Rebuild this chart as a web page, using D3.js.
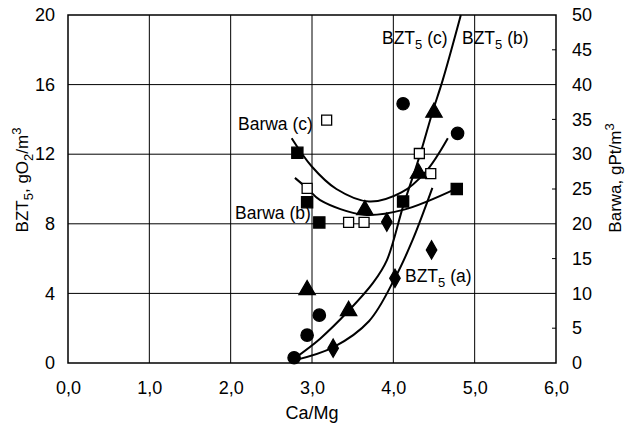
<!DOCTYPE html>
<html>
<head>
<meta charset="utf-8">
<script src="https://cdn.jsdelivr.net/npm/d3@7"></script>
<style>
  body { margin: 0; background: #fff; }
  text { font-family: Arial, "Liberation Sans", sans-serif; fill: #000; }
</style>
</head>
<body>
<div id="container"></div>
<script>
/* CONSTANTS AND GLOBALS */
const width = 626;
const height = 425;
const margin = { top: 15, right: 70, bottom: 62, left: 68 };

/* DATA */
const xTicks = [0, 1, 2, 3, 4, 5, 6];
const bztTicks = [0, 4, 8, 12, 16, 20];
const barwaTicks = [0, 5, 10, 15, 20, 25, 30, 35, 40, 45, 50];

// markers: BZT5 in gO2/m3 (left axis), Barwa in gPt/m3 (right axis)
const sqFilledX = [2.82, 2.94, 3.09, 4.12, 4.78];
const sqFilledBarwa = [30.2, 23.1, 20.2, 23.2, 25.0];
const sqOpenX = [3.18, 2.94, 3.45, 3.64, 4.32, 4.46];
const sqOpenBarwa = [34.9, 25.1, 20.2, 20.2, 30.1, 27.2];
const circleX = [2.78, 2.94, 3.09, 4.12, 4.79];
const circleBzt = [0.3, 1.6, 2.75, 14.9, 13.2];
const triX = [2.94, 3.45, 3.65, 4.31, 4.5];
const triBzt = [4.2, 3.0, 8.8, 10.9, 14.4];
const diaX = [3.26, 3.92, 4.02, 4.47];
const diaBzt = [0.85, 8.1, 4.87, 6.5];

// fitted curves
const barwaCX = [2.75, 3.0, 3.3, 3.7, 4.1, 4.4, 4.67];
const barwaCY = [32.3, 28.2, 25.0, 23.2, 24.5, 27.5, 32.3];
const barwaBX = [2.79, 2.94, 3.1, 3.64, 4.12, 4.78];
const barwaBY = [26.6, 25.1, 23.4, 21.3, 22.0, 25.1];
const bztCX = [2.78, 3.1, 3.45, 3.75, 3.92, 4.12, 4.33, 4.48, 4.61, 4.83];
const bztCY = [0.25, 1.4, 3.0, 4.6, 5.9, 9.0, 12.0, 14.4, 16.3, 20];
const bztAX = [2.78, 3.26, 3.7, 4.02, 4.24, 4.48];
const bztAY = [0.15, 0.9, 2.4, 4.88, 7.1, 10.06];

const svg = d3.select("#container").append("svg")
  .attr("width", width)
  .attr("height", height);

/* SCALES */
const xScale = d3.scaleLinear().domain([0, 6]).range([margin.left, width - margin.right]);
const yL = d3.scaleLinear().domain([0, 20]).range([height - margin.bottom, margin.top]);
const yR = d3.scaleLinear().domain([0, 50]).range([height - margin.bottom, margin.top]);

const x0 = xScale(0), x1 = xScale(6), yb = yL(0), yt = yL(20);

// grid
svg.append("g").selectAll("line")
  .data(xTicks.slice(1, -1))
  .join("line")
  .attr("x1", d => xScale(d)).attr("x2", d => xScale(d))
  .attr("y1", yt).attr("y2", yb)
  .attr("stroke", "#000").attr("stroke-width", 1);
svg.append("g").selectAll("line")
  .data(bztTicks.slice(1, -1))
  .join("line")
  .attr("x1", x0).attr("x2", x1)
  .attr("y1", d => yL(d)).attr("y2", d => yL(d))
  .attr("stroke", "#000").attr("stroke-width", 1);

// frame
svg.append("rect")
  .attr("x", x0).attr("y", yt)
  .attr("width", x1 - x0).attr("height", yb - yt)
  .attr("fill", "none").attr("stroke", "#000").attr("stroke-width", 1.5);

// axes
const xAxis = d3.axisBottom(xScale).tickValues(xTicks).tickSize(0).tickPadding(18)
  .tickFormat(d => d3.format(".1f")(d).replace(".", ","));
const gx = svg.append("g").attr("transform", `translate(0, ${yb})`).call(xAxis);
const yAxisL = d3.axisLeft(yL).tickValues(bztTicks).tickSize(0).tickPadding(13);
const gl = svg.append("g").attr("transform", `translate(${x0}, 0)`).call(yAxisL);
const yAxisR = d3.axisRight(yR).tickValues(barwaTicks).tickSize(0).tickPadding(16);
const gr = svg.append("g").attr("transform", `translate(${x1}, 0)`).call(yAxisR);
[gx, gl, gr].forEach(g => {
  g.select(".domain").remove();
  g.selectAll("text").style("font-size", "18px").attr("font-family", "Arial, 'Liberation Sans', sans-serif");
});

// small minor ticks on the right axis
svg.append("g").selectAll("line")
  .data(barwaTicks.filter(d => d % 10 !== 0))
  .join("line")
  .attr("x1", x1 - 4).attr("x2", x1)
  .attr("y1", d => yR(d)).attr("y2", d => yR(d))
  .attr("stroke", "#000");

/* CURVES */
const curve = d3.curveCatmullRom.alpha(0.5);
function drawCurve(xs, ys, yScale) {
  const pts = xs.map((x, i) => [xScale(x), yScale(ys[i])]);
  svg.append("path")
    .attr("d", d3.line().curve(curve)(pts))
    .attr("fill", "none").attr("stroke", "#000").attr("stroke-width", 2);
}
drawCurve(barwaCX, barwaCY, yR);
drawCurve(barwaBX, barwaBY, yR);
drawCurve(bztCX, bztCY, yL);
drawCurve(bztAX, bztAY, yL);

/* MARKERS */
function drawMarkers(xs, ys, yScale, type, size, fill) {
  svg.append("g").selectAll("path")
    .data(xs.map((x, i) => [x, ys[i]]))
    .join("path")
    .attr("transform", d => `translate(${xScale(d[0])}, ${yScale(d[1])})`)
    .attr("d", d3.symbol().type(type).size(size))
    .attr("fill", fill).attr("stroke", "#000").attr("stroke-width", 1.3);
}
drawMarkers(sqFilledX, sqFilledBarwa, yR, d3.symbolSquare, 125, "#000");
drawMarkers(sqOpenX, sqOpenBarwa, yR, d3.symbolSquare, 100, "#fff");
drawMarkers(circleX, circleBzt, yL, d3.symbolCircle, 120, "#000");
drawMarkers(triX, triBzt, yL, d3.symbolTriangle, 115, "#000");
drawMarkers(diaX, diaBzt, yL, d3.symbolDiamond, 95, "#000");

/* LABELS */
function label(x, y, main, sub, rest) {
  const t = svg.append("text").attr("x", x).attr("y", y).style("font-size", "17.5px");
  t.append("tspan").text(main);
  if (sub) t.append("tspan").attr("dy", 5).style("font-size", "13px").text(sub);
  if (rest) t.append("tspan").attr("dy", sub ? -5 : 0).text(rest);
  return t;
}
label(382, 44, "BZT", "5", " (c)");
label(462, 44, "BZT", "5", " (b)");
label(405, 282, "BZT", "5", " (a)");
label(238, 130, "Barwa (c)");
label(235, 219, "Barwa (b)");

// x title
svg.append("text")
  .attr("x", (x0 + x1) / 2).attr("y", 419)
  .attr("text-anchor", "middle").style("font-size", "18px")
  .text("Ca/Mg");

// left y title
const tl = svg.append("text")
  .attr("transform", `translate(28, 180) rotate(-90)`)
  .attr("text-anchor", "middle").style("font-size", "17px");
tl.append("tspan").text("BZT");
tl.append("tspan").attr("dy", 5).style("font-size", "13px").text("5");
tl.append("tspan").attr("dy", -5).text(", gO");
tl.append("tspan").attr("dy", 5).style("font-size", "13px").text("2");
tl.append("tspan").attr("dy", -5).text("/m");
tl.append("tspan").attr("dy", -7).style("font-size", "13px").text("3");

// right y title
const tr = svg.append("text")
  .attr("transform", `translate(621, 178) rotate(-90)`)
  .attr("text-anchor", "middle").style("font-size", "17px");
tr.append("tspan").text("Barwa, gPt/m");
tr.append("tspan").attr("dy", -7).style("font-size", "13px").text("3");
</script>
</body>
</html>
